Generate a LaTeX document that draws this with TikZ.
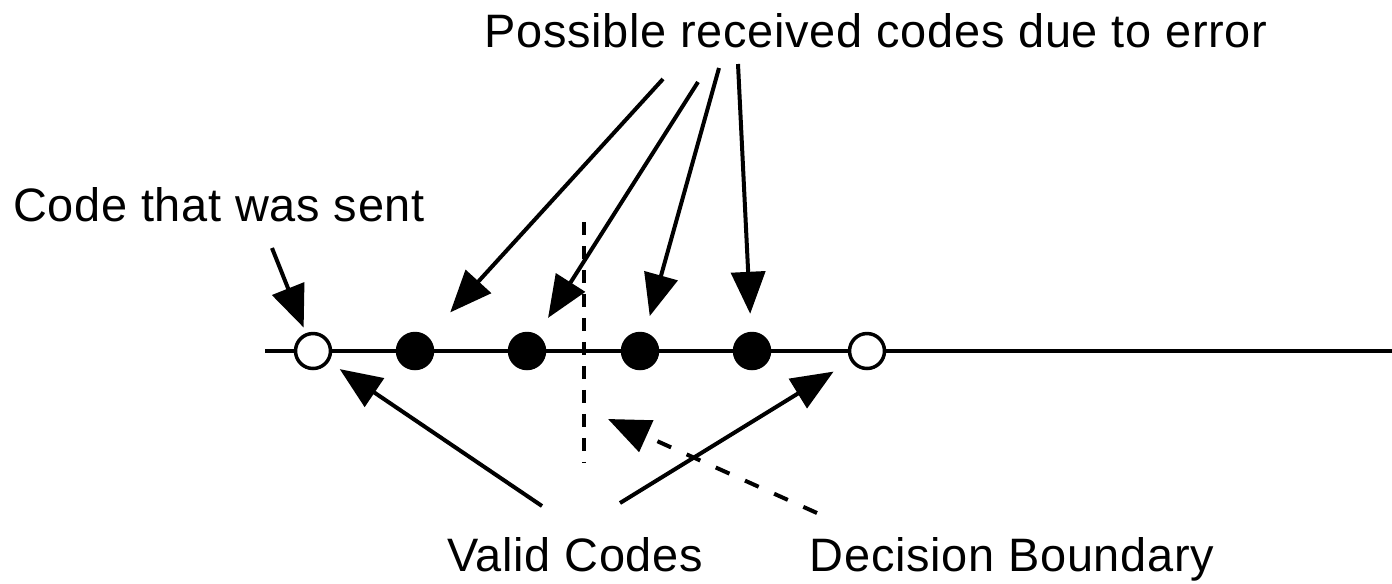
\documentclass[tikz,border=0pt]{standalone}
\usepackage{fontspec}
\setmainfont{Liberation Sans}[LetterSpace=1.5]
\usetikzlibrary{arrows.meta}

\begin{document}
\begin{tikzpicture}[
  x=0.02cm,y=-0.02cm,
  line width=0.08cm,
  lbl/.style={font=\fontsize{26.7}{32}\selectfont,anchor=base,inner sep=0pt},
  opencode/.style={circle,draw,line width=0.07cm,minimum size=0.7cm,inner sep=0pt,fill=white},
  hitcode/.style={opencode,fill=black},
  pt/.style={-{Triangle[length=0.84cm,width=0.68cm]}},
  ]

  \useasboundingbox (0,0) rectangle (1392,583);

  %axis
  \coordinate (axL) at (265,351);
  \coordinate (axR) at (1392,351);
  \draw (axL) -- (axR);

  %decision boundary
  \coordinate (bdTop) at (584,222);
  \coordinate (bdBot) at (584,462);
  \draw[dash pattern=on 0.26cm off 0.22cm] (bdTop) -- (bdBot);

  %valid codes
  \node (sent) [opencode] at (313,351) {};
  \node (other) [opencode] at (867,351) {};

  %received codes
  \foreach \x [count=\i] in {415,527,640,752}
   {
     \node (hit_\i) [hitcode] at (\x,351) {};
   }

  %labels
  \node (lblRecv) [lbl] at (876,47) {Possible received codes due to error};
  \node (lblSent) [lbl] at (219,221) {Code that was sent};
  \node (lblValid) [lbl] at (575,571) {Valid Codes};
  \node (lblBound) [lbl] at (1012,571) {Decision Boundary};

  %arrow tails
  \coordinate (tSent) at (272,248);
  \coordinate (tHit_1) at (663,79);
  \coordinate (tHit_2) at (698,82);
  \coordinate (tHit_3) at (719,68);
  \coordinate (tHit_4) at (738,64);
  \coordinate (tValL) at (542,506);
  \coordinate (tValR) at (620,503);
  \coordinate (tBound) at (817,513);
  \coordinate (hBound) at (608,419);

  %arrows
  \draw[pt,shorten >=0.12cm] (tSent) -- (sent);
  \foreach \i/\s in {1/0.66,2/0.40,3/0.34,4/0.36}
   {
     \draw[pt,shorten >=\s cm] (tHit_\i) -- (hit_\i);
   }
  \draw[pt,shorten >=0.26cm] (tValL) -- (sent);
  \draw[pt,shorten >=0.40cm] (tValR) -- (other);
  \draw[pt,dash pattern=on 0.3cm off 0.34cm] (tBound) -- (hBound);

\end{tikzpicture}
\end{document}
